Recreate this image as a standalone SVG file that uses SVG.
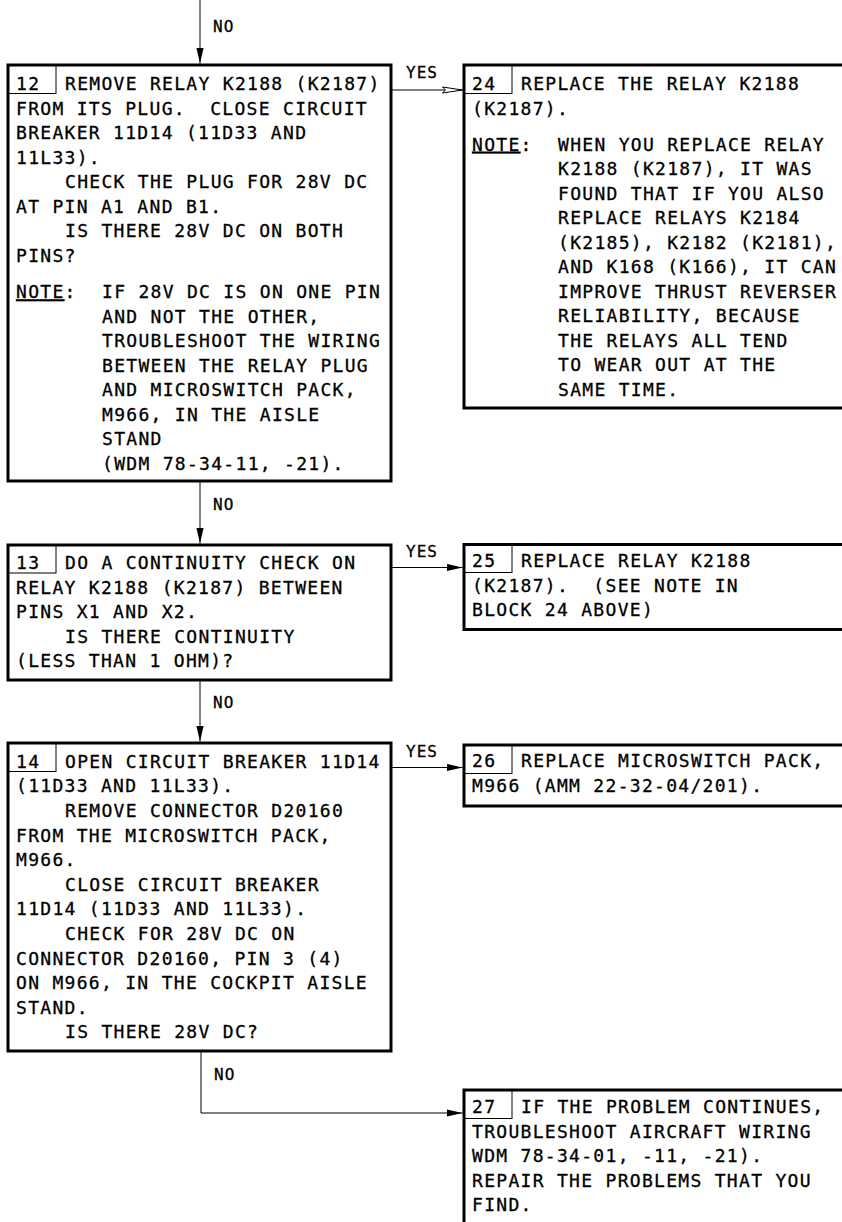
<svg xmlns="http://www.w3.org/2000/svg" width="842" height="1222" viewBox="0 0 842 1222">
<style>
.box{fill:#fff;stroke:#000;stroke-width:3}
.num{fill:none;stroke:#000;stroke-width:1}
.t{font-family:"DejaVu Sans Mono","Liberation Mono",monospace;font-size:18px;letter-spacing:1.3px;fill:#000;stroke:#000;stroke-width:0.3px}
.lbl{font-family:"DejaVu Sans Mono","Liberation Mono",monospace;font-size:16px;letter-spacing:1px;fill:#000;stroke:#000;stroke-width:0.3px}
.c{fill:none;stroke:#000;stroke-width:1}
.u{text-decoration:underline}
</style>
<defs>
<marker id="ah" markerUnits="userSpaceOnUse" markerWidth="16" markerHeight="8" refX="16" refY="4" orient="auto">
<path d="M0,0.3 L16,4 L0,7.7 z" fill="#000"/>
</marker>
<marker id="aho" markerUnits="userSpaceOnUse" markerWidth="22" markerHeight="9" refX="21" refY="4.5" orient="auto">
<path d="M1,1.5 L21,4.5 L1,7.5 L4,4.5 z" fill="#fff" stroke="#000" stroke-width="1"/>
</marker>
</defs>

<g id="connectors">
<path class="c" d="M200,0 V63.5" marker-end="url(#ah)"/>
<text class="lbl" x="213" y="32">NO</text>
<path class="c" d="M200,482 V543.5" marker-end="url(#ah)"/>
<text class="lbl" x="213" y="510">NO</text>
<path class="c" d="M200,681 V741.5" marker-end="url(#ah)"/>
<text class="lbl" x="213" y="708">NO</text>
<path class="c" d="M201,1052 V1113 H462.5" marker-end="url(#ah)"/>
<text class="lbl" x="214" y="1080">NO</text>
<path class="c" d="M392,90 H462.5" marker-end="url(#aho)"/>
<text class="lbl" x="406" y="78">YES</text>
<path class="c" d="M392,567.5 H462.5" marker-end="url(#ah)"/>
<text class="lbl" x="406" y="556.7">YES</text>
<path class="c" d="M392,767.5 H462.5" marker-end="url(#ah)"/>
<text class="lbl" x="406" y="756.7">YES</text>
</g>

<g id="n12">
<rect class="box" x="8" y="65" width="383" height="416"/>
<rect class="num" x="8" y="65" width="48" height="28.5"/>
<text class="t">
<tspan x="16" y="90">12</tspan>
<tspan x="65" y="90">REMOVE RELAY K2188 (K2187)</tspan>
<tspan x="16" y="114.5">FROM ITS PLUG.&#160; CLOSE CIRCUIT</tspan>
<tspan x="16" y="139">BREAKER 11D14 (11D33 AND</tspan>
<tspan x="16" y="163.5">11L33).</tspan>
<tspan x="65" y="188">CHECK THE PLUG FOR 28V DC</tspan>
<tspan x="16" y="212.5">AT PIN A1 AND B1.</tspan>
<tspan x="65" y="237">IS THERE 28V DC ON BOTH</tspan>
<tspan x="16" y="261.5">PINS?</tspan>
<tspan x="16" y="298.3" class="u">NOTE</tspan><tspan>:</tspan>
<tspan x="102" y="298.3">IF 28V DC IS ON ONE PIN</tspan>
<tspan x="102" y="322.8">AND NOT THE OTHER,</tspan>
<tspan x="102" y="347.3">TROUBLESHOOT THE WIRING</tspan>
<tspan x="102" y="371.8">BETWEEN THE RELAY PLUG</tspan>
<tspan x="102" y="396.3">AND MICROSWITCH PACK,</tspan>
<tspan x="102" y="420.8">M966, IN THE AISLE</tspan>
<tspan x="102" y="445.3">STAND</tspan>
<tspan x="102" y="469.8">(WDM 78-34-11, -21).</tspan>
</text>
</g>

<g id="n24">
<rect class="box" x="464" y="65" width="400" height="343"/>
<rect class="num" x="464" y="65" width="48" height="28.5"/>
<text class="t">
<tspan x="472" y="90">24</tspan>
<tspan x="521" y="90">REPLACE THE RELAY K2188</tspan>
<tspan x="472" y="114.5">(K2187).</tspan>
<tspan x="472" y="150.7" class="u">NOTE</tspan><tspan>:</tspan>
<tspan x="558" y="150.7">WHEN YOU REPLACE RELAY</tspan>
<tspan x="558" y="175.2">K2188 (K2187), IT WAS</tspan>
<tspan x="558" y="199.7">FOUND THAT IF YOU ALSO</tspan>
<tspan x="558" y="224.2">REPLACE RELAYS K2184</tspan>
<tspan x="558" y="248.7">(K2185), K2182 (K2181),</tspan>
<tspan x="558" y="273.2">AND K168 (K166), IT CAN</tspan>
<tspan x="558" y="297.7">IMPROVE THRUST REVERSER</tspan>
<tspan x="558" y="322.2">RELIABILITY, BECAUSE</tspan>
<tspan x="558" y="346.7">THE RELAYS ALL TEND</tspan>
<tspan x="558" y="371.2">TO WEAR OUT AT THE</tspan>
<tspan x="558" y="395.7">SAME TIME.</tspan>
</text>
</g>

<g id="n13">
<rect class="box" x="8" y="545" width="383" height="135"/>
<rect class="num" x="8" y="545" width="48" height="28"/>
<text class="t">
<tspan x="16" y="569">13</tspan>
<tspan x="65" y="569">DO A CONTINUITY CHECK ON</tspan>
<tspan x="16" y="593.5">RELAY K2188 (K2187) BETWEEN</tspan>
<tspan x="16" y="618">PINS X1 AND X2.</tspan>
<tspan x="65" y="642.5">IS THERE CONTINUITY</tspan>
<tspan x="16" y="667">(LESS THAN 1 OHM)?</tspan>
</text>
</g>

<g id="n25">
<rect class="box" x="464" y="544.5" width="400" height="85"/>
<rect class="num" x="464" y="544.5" width="48" height="28"/>
<text class="t">
<tspan x="472" y="567">25</tspan>
<tspan x="521" y="567">REPLACE RELAY K2188</tspan>
<tspan x="472" y="591.5">(K2187).&#160; (SEE NOTE IN</tspan>
<tspan x="472" y="616">BLOCK 24 ABOVE)</tspan>
</text>
</g>

<g id="n14">
<rect class="box" x="8" y="743" width="383" height="308"/>
<rect class="num" x="8" y="743" width="48" height="28.5"/>
<text class="t">
<tspan x="16" y="767.7">14</tspan>
<tspan x="65" y="767.7">OPEN CIRCUIT BREAKER 11D14</tspan>
<tspan x="16" y="792.3">(11D33 AND 11L33).</tspan>
<tspan x="65" y="816.9">REMOVE CONNECTOR D20160</tspan>
<tspan x="16" y="841.5">FROM THE MICROSWITCH PACK,</tspan>
<tspan x="16" y="866.1">M966.</tspan>
<tspan x="65" y="890.7">CLOSE CIRCUIT BREAKER</tspan>
<tspan x="16" y="915.3">11D14 (11D33 AND 11L33).</tspan>
<tspan x="65" y="939.9">CHECK FOR 28V DC ON</tspan>
<tspan x="16" y="964.5">CONNECTOR D20160, PIN 3 (4)</tspan>
<tspan x="16" y="989.1">ON M966, IN THE COCKPIT AISLE</tspan>
<tspan x="16" y="1013.7">STAND.</tspan>
<tspan x="65" y="1038.3">IS THERE 28V DC?</tspan>
</text>
</g>

<g id="n26">
<rect class="box" x="464" y="745" width="400" height="61"/>
<rect class="num" x="464" y="745" width="48" height="28.5"/>
<text class="t">
<tspan x="472" y="767">26</tspan>
<tspan x="521" y="767">REPLACE MICROSWITCH PACK,</tspan>
<tspan x="472" y="791.5">M966 (AMM 22-32-04/201).</tspan>
</text>
</g>

<g id="n27">
<rect class="box" x="464" y="1090" width="400" height="200"/>
<rect class="num" x="464" y="1090" width="48" height="28.5"/>
<text class="t">
<tspan x="472" y="1113.3">27</tspan>
<tspan x="521" y="1113.3">IF THE PROBLEM CONTINUES,</tspan>
<tspan x="472" y="1137.8">TROUBLESHOOT AIRCRAFT WIRING</tspan>
<tspan x="472" y="1162.3">WDM 78-34-01, -11, -21).</tspan>
<tspan x="472" y="1186.8">REPAIR THE PROBLEMS THAT YOU</tspan>
<tspan x="472" y="1211.3">FIND.</tspan>
</text>
</g>
</svg>
